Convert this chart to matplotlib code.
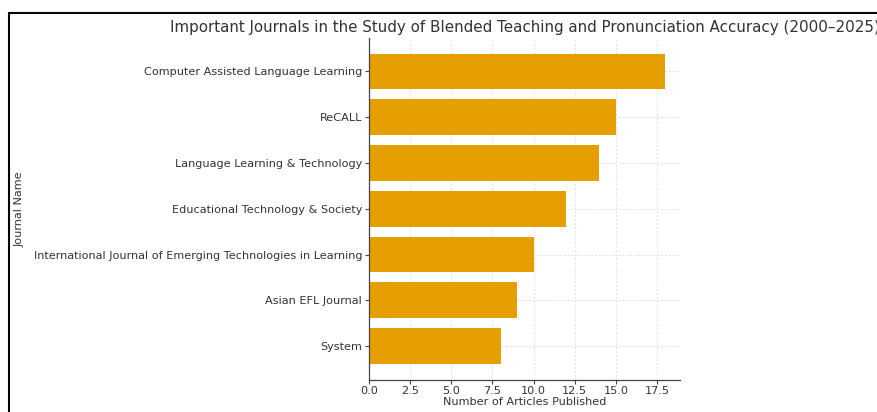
import matplotlib
matplotlib.use("Agg")
import matplotlib.pyplot as plt
from matplotlib.patches import Rectangle

# данные: журналы и число статей
journals = [
    "Computer Assisted Language Learning",
    "ReCALL",
    "Language Learning & Technology",
    "Educational Technology & Society",
    "International Journal of Emerging Technologies in Learning",
    "Asian EFL Journal",
    "System",
]
articles = [18, 15, 14, 12, 10, 9, 8]

title = "Important Journals in the Study of Blended Teaching and Pronunciation Accuracy (2000\u20132025)"

W, H = 877, 412
L, R, T, B = 369, 680, 38, 379.5
fig = plt.figure(figsize=(W / 100, H / 100), dpi=100)
ax = fig.add_axes([L / W, 1 - B / H, (R - L) / W, (B - T) / H])

txt = "#333333"
ax.barh(journals, articles, height=0.78, color="#E69F00", zorder=2)
ax.invert_yaxis()

ax.grid(True, color="#e0e0e0", linestyle=(0, (2, 2)), linewidth=0.7, zorder=0)
ax.spines["top"].set_visible(False)
ax.spines["right"].set_visible(False)
for s in ("left", "bottom"):
    ax.spines[s].set_color("#444444")
    ax.spines[s].set_linewidth(0.9)
ax.tick_params(labelsize=8.1, colors="#444444", labelcolor=txt, length=3)
ax.tick_params(axis="x", pad=1.5)
ax.tick_params(axis="y", pad=2)
ax.set_xlabel("Number of Articles Published", fontsize=8.1, color=txt, labelpad=1)
ax.set_ylabel("Journal Name", fontsize=8.1, color=txt)
ax.yaxis.set_label_coords((25 - L) / (R - L), 0.5)
ax.set_title(title, fontsize=10.9, color=txt, pad=4)

# рамка скриншота
fig.add_artist(Rectangle((9 / W, -0.1), 2, 1.1 - 13 / H, transform=fig.transFigure,
                         fill=False, edgecolor="black", linewidth=1.5))

fig.savefig("out.png", dpi=100)
